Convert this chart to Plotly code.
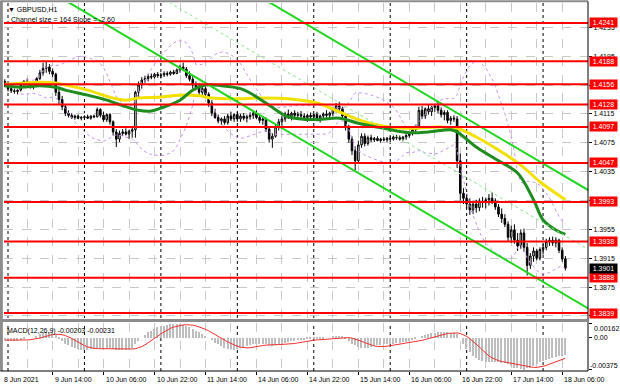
import plotly.graph_objects as go
import pandas as pd

FONT = "Liberation Sans"

# ---------------- data (prices in pips = price*10000) ----------------
# H1 bars, bar index 0 = 9 Jun 2021 00:00 (trading hours only)
first_bar = -1
open_pips = [14160,14155,14150,14147,14146,14148,14156,14160,14158,14152,14154,14164,14172,14178,14180,14174,14170,14145,14135,14125,14116,
             14113,14110,14112,14109,14110,14111,14109,14112,14111,14121,14113,14107,14114,14104,14090,14080,14088,14090,14087,14091,
             14093,14145,14155,14162,14164,14167,14166,14170,14168,14169,14171,14170,14173,14171,14176,14180,14177,14168,14163,14155,
             14152,14145,14150,14142,14130,14116,14110,14105,14108,14103,14112,14108,
             14114,14108,14112,14109,14111,14113,14116,14110,14106,14108,14094,14080,14084,14097,14104,14108,14115,14112,14116,14113,
             14114,14112,14110,14113,
             14111,14114,14109,14112,14115,14113,14116,14121,14126,14122,14112,14096,14080,14064,14050,14072,14084,14074,14082,14079,
             14081,14078,14080,14079,
             14081,14080,14083,14082,14080,14083,14085,14088,14093,14098,14120,14112,14122,14118,14124,14126,14120,14114,14117,14106,
             14109,14108,14050,14005,
             13998,13990,13982,13990,13985,13994,13992,13996,13998,13994,13986,13976,13970,13962,13944,13954,13940,13932,13950,13930,
             13905,13918,13925,13915,
             13927,13930,13938,13940,13936,13940,13926,13914]
high_pips = [14163,14158,14153,14150,14149,14158,14162,14164,14160,14156,14166,14176,14186,14187,14184,14178,14172,14150,14140,14128,14120,
             14116,14114,14114,14112,14113,14114,14113,14114,14124,14123,14118,14116,14116,14106,14094,14092,14094,14095,14093,14096,
             14147,14160,14166,14168,14170,14171,14172,14173,14172,14174,14174,14175,14176,14178,14183,14186,14180,14174,14168,14160,
             14158,14155,14153,14145,14134,14122,14114,14110,14112,14115,14118,14116,
             14118,14115,14116,14114,14117,14119,14120,14114,14112,14110,14098,14088,14100,14108,14112,14118,14121,14118,14120,14118,
             14119,14116,14115,14117,
             14116,14118,14114,14117,14120,14118,14124,14130,14132,14125,14114,14100,14084,14070,14078,14088,14088,14085,14086,14083,
             14084,14082,14083,14083,
             14084,14085,14086,14085,14084,14087,14090,14095,14100,14125,14126,14124,14127,14126,14129,14133,14124,14120,14120,14112,
             14113,14112,14060,14012,
             14004,13998,13994,13996,13998,14000,13999,14004,14006,13998,13990,13984,13976,13966,13960,13962,13950,13955,13956,13936,
             13922,13930,13928,13930,
             13935,13942,13944,13945,13944,13942,13930,13918]
low_pips = [14152,14146,14144,14143,14142,14146,14152,14155,14150,14149,14152,14162,14168,14172,14170,14166,14140,14128,14120,14112,14110,
            14108,14107,14108,14106,14107,14108,14107,14109,14110,14110,14104,14104,14100,14085,14069,14076,14084,14085,14080,14082,
            14082,14138,14150,14158,14160,14163,14164,14165,14164,14166,14167,14168,14169,14170,14172,14174,14165,14160,14150,14148,
            14140,14140,14138,14125,14112,14108,14102,14100,14100,14100,14105,14104,
            14104,14104,14106,14103,14107,14108,14108,14102,14100,14090,14075,14068,14082,14092,14098,14104,14108,14106,14110,14108,
            14109,14106,14104,14108,
            14106,14107,14103,14108,14110,14109,14112,14117,14118,14108,14092,14075,14058,14037,14046,14068,14070,14071,14076,14076,
            14077,14075,14077,14076,
            14077,14078,14079,14078,14077,14079,14082,14085,14090,14096,14108,14108,14114,14112,14118,14116,14110,14106,14102,14100,
            14104,14040,13995,13990,
            13984,13975,13976,13978,13980,13985,13984,13988,13990,13982,13972,13964,13958,13938,13936,13935,13925,13928,13924,13891,
            13900,13910,13912,13912,
            13920,13926,13932,13932,13930,13922,13910,13898]
close_pips = [14155,14150,14147,14146,14148,14156,14160,14158,14152,14154,14164,14172,14178,14180,14174,14170,14145,14135,14125,14116,14113,
              14110,14112,14109,14110,14111,14109,14112,14111,14121,14113,14107,14114,14104,14090,14080,14088,14090,14087,14091,14093,
              14145,14155,14162,14164,14167,14166,14170,14168,14169,14171,14170,14173,14171,14176,14180,14177,14168,14163,14155,14152,
              14145,14150,14142,14130,14116,14110,14105,14108,14103,14112,14108,14114,
              14108,14112,14109,14111,14113,14116,14110,14106,14108,14094,14080,14084,14097,14104,14108,14115,14112,14116,14113,14114,
              14112,14110,14113,14111,
              14114,14109,14112,14115,14113,14116,14121,14126,14122,14112,14096,14080,14064,14050,14072,14084,14074,14082,14079,14081,
              14078,14080,14079,14081,
              14080,14083,14082,14080,14083,14085,14088,14093,14098,14120,14112,14122,14118,14124,14126,14120,14114,14117,14106,14109,
              14108,14050,14005,13998,
              13990,13982,13990,13985,13994,13992,13996,13998,13994,13986,13976,13970,13962,13944,13954,13940,13932,13950,13930,13905,
              13918,13925,13915,13927,
              13930,13938,13940,13936,13940,13926,13914,13901]

# moving averages (bar index, pips)
ma_fast_bars = [-1, 4, 10, 15, 18, 25, 31, 37, 41, 45, 48, 54, 58, 62, 67, 73, 76, 82, 88, 97, 104, 110, 118, 126, 132, 139, 141, 147, 154, 160, 165, 168, 172, 175]
ma_fast_pips = [14154, 14152, 14154, 14152, 14148, 14141, 14134, 14125, 14120, 14119, 14123, 14134, 14148, 14155, 14154, 14150, 14144, 14127, 14111, 14107, 14109, 14102, 14095, 14089, 14090, 14093, 14090, 14069, 14050, 14033, 13996, 13968, 13954, 13948]
ma_slow_bars = [-1, 10, 15, 18, 25, 32, 37, 41, 47, 54, 60, 64, 71, 79, 88, 97, 105, 110, 118, 128, 135, 141, 147, 154, 161, 167, 175]
ma_slow_pips = [14156, 14159, 14158, 14155, 14148, 14138, 14134, 14137, 14138, 14141, 14140, 14137, 14136, 14137, 14136, 14130, 14116, 14107, 14098, 14095, 14097, 14095, 14083, 14065, 14044, 14021, 13996]

# MACD(12,26,9) main line per bar, in units of 0.0001
macd_main = [-3,-3,-4,-4,-4,-3,-1,0,0,0,2,4,6,7,7,6,3,-1,-4,-7,-9,
             -11,-12,-13,-14,-14,-14,-13,-13,-12,-12,-12,-12,-12,-13,-15,-15,-14,-14,-13,-12,
             -8,-4,0,3,6,8,10,12,13,14,15,16,16,16,16,15,14,12,10,8,
             6,4,2,0,-3,-6,-8,-10,-12,-13,-13,-14,
             -13,-12,-11,-10,-9,-8,-7,-7,-7,-8,-9,-10,-9,-8,-7,-6,-5,-4,-4,-3,
             -3,-3,-2,-2,
             -2,-2,-1,-1,0,0,1,2,2,1,-1,-4,-7,-9,-11,-12,-12,-12,-11,-10,
             -9,-9,-8,-8,
             -7,-7,-6,-6,-5,-5,-4,-3,-2,0,2,3,4,5,5,6,6,6,6,5,
             5,4,0,-7,
             -13,-17,-21,-24,-26,-27,-28,-29,-29,-29,-29,-30,-30,-31,-33,-35,-36,-37,-37.5,-36,
             -35,-33,-31,-29,
             -27,-26,-25,-24,-23,-22,-21,-20.5,-20.3]
macd_signal_period = 9
macd_header_values = [-0.00203, -0.00231]

levels = [1.4241, 1.4188, 1.4156, 1.4128, 1.4097, 1.4047, 1.3993, 1.3938, 1.3888, 1.3839]
current_price = 1.3901
price_ticks = [1.3835, 1.3875, 1.3915, 1.3955, 1.3995, 1.4035, 1.4075, 1.4115, 1.4155, 1.4195, 1.4235]
macd_ticks = [0.00162, 0.0, -0.00375]
macd_tick_text = ["0.00162", "0.00", "-0.00375"]
tick_bars = [-2, 14, 30, 46, 62, 78, 94, 110, 126, 142, 158, 174]
tick_labels = ["8 Jun 2021", "9 Jun 14:00", "10 Jun 06:00", "10 Jun 22:00", "11 Jun 14:00", "14 Jun 06:00",
               "14 Jun 22:00", "15 Jun 14:00", "16 Jun 06:00", "16 Jun 22:00", "17 Jun 14:00", "18 Jun 06:00"]
day_start_bars = [0, 24, 48, 72, 96, 120, 144, 168]
channel_size_pips = 164
channel_slope_pips = -2.60
channel_anchor_bar = 175
channel_anchor_upper_pips = 14028
bb_period, bb_dev = 20, 2

# ---------------- build ----------------
P = 10000.0
bars = list(range(first_bar, first_bar + len(close_pips)))
closes = pd.Series([c / P for c in close_pips])
bb_mid = closes.rolling(bb_period, min_periods=6).mean()
bb_sd = closes.rolling(bb_period, min_periods=6).std(ddof=0)
bb_up = bb_mid + bb_dev * bb_sd
bb_lo = bb_mid - bb_dev * bb_sd
macd = pd.Series([m / P for m in macd_main])
signal = macd.rolling(macd_signal_period, min_periods=1).mean()

x_min, x_max = -1.26, 182.1
y_min, y_max = 1.38321, 1.42687
m_min, m_max = -0.0039, 0.0017

fig = go.Figure()

for band in (bb_up, bb_lo):
    fig.add_trace(go.Scatter(x=bars, y=band, mode="lines", line=dict(color="#C495EA", width=1, dash="dot"),
                             xaxis="x", yaxis="y", hoverinfo="skip"))

fig.add_trace(go.Candlestick(
    x=bars, open=[v / P for v in open_pips], high=[v / P for v in high_pips],
    low=[v / P for v in low_pips], close=closes,
    increasing=dict(line=dict(color="black", width=1), fillcolor="white"),
    decreasing=dict(line=dict(color="black", width=1), fillcolor="black"),
    whiskerwidth=0, xaxis="x", yaxis="y"))

fig.add_trace(go.Scatter(x=ma_slow_bars, y=[v / P for v in ma_slow_pips], mode="lines",
                         line=dict(color="#F2E000", width=3, shape="spline"), xaxis="x", yaxis="y"))
fig.add_trace(go.Scatter(x=ma_fast_bars, y=[v / P for v in ma_fast_pips], mode="lines",
                         line=dict(color="#1E8C1E", width=3, shape="spline"), xaxis="x", yaxis="y"))

ch_x = [-3, 184]
upper = [(channel_anchor_upper_pips + channel_slope_pips * (b - channel_anchor_bar)) / P for b in ch_x]
lower = [u - channel_size_pips / P for u in upper]
middle = [u - channel_size_pips / 2 / P for u in upper]
fig.add_trace(go.Scatter(x=ch_x, y=upper, mode="lines", line=dict(color="#22D622", width=2), xaxis="x", yaxis="y"))
fig.add_trace(go.Scatter(x=ch_x, y=lower, mode="lines", line=dict(color="#22D622", width=2), xaxis="x", yaxis="y"))
fig.add_trace(go.Scatter(x=ch_x, y=middle, mode="lines", line=dict(color="#8BE68B", width=1, dash="dot"), xaxis="x", yaxis="y"))

fig.add_trace(go.Bar(x=bars, y=macd, marker=dict(color="#BDBDBD", line=dict(width=0)), width=0.45,
                     xaxis="x2", yaxis="y2"))
fig.add_trace(go.Scatter(x=bars, y=signal, mode="lines", line=dict(color="#F03030", width=1),
                         xaxis="x2", yaxis="y2"))

shapes = []
for lv in levels:
    shapes.append(dict(type="line", xref="x domain", yref="y", x0=0, x1=1, y0=lv, y1=lv,
                       line=dict(color="#FF0000", width=2), layer="above"))
for db in day_start_bars:
    for yr in ("y domain", "y2 domain"):
        shapes.append(dict(type="line", xref="x", yref=yr, x0=db, x1=db, y0=0, y1=1,
                           line=dict(color="#000000", width=1, dash="dot"), layer="below"))
main_bot = 53 / 368
macd_top = 48 / 368
shapes += [
    dict(type="line", xref="paper", yref="paper", x0=-0.0045, x1=-0.0045, y0=0, y1=1.006, line=dict(color="#8C8C8C", width=3)),
    dict(type="line", xref="paper", yref="paper", x0=-0.006, x1=1, y0=1.0045, y1=1.0045, line=dict(color="#8C8C8C", width=2)),
    dict(type="line", xref="paper", yref="paper", x0=1, x1=1, y0=0, y1=1.004, line=dict(color="#000000", width=1)),
    dict(type="line", xref="paper", yref="paper", x0=-0.006, x1=1, y0=(main_bot + macd_top) / 2, y1=(main_bot + macd_top) / 2,
         line=dict(color="#8C8C8C", width=3)),
    dict(type="line", xref="paper", yref="paper", x0=-0.006, x1=1, y0=0, y1=0, line=dict(color="#000000", width=1)),
]

ann = []
for lv in levels:
    ann.append(dict(xref="paper", yref="y", x=1, y=lv, xanchor="left", yanchor="middle", xshift=1,
                    text=f"{lv:.4f}", showarrow=False, bgcolor="#FF0000", width=26, height=8, borderpad=0.5,
                    font=dict(family=FONT, size=7, color="white")))
ann.append(dict(xref="paper", yref="y", x=1, y=current_price, xanchor="left", yanchor="middle", xshift=1,
                text=f"{current_price:.4f}", showarrow=False, bgcolor="#000000", width=26, height=8, borderpad=0.5,
                font=dict(family=FONT, size=7, color="white")))
# MACD pane scale labels (MT4 draws the extreme labels just inside the pane)
for val, txt, xs, ys in zip(macd_ticks, macd_tick_text, [4, 4, 0], [-5, 0, 4]):
    ann.append(dict(xref="paper", yref="y2", x=1, y=val, xanchor="left", yanchor="middle", xshift=xs, yshift=ys,
                    text=txt, showarrow=False, font=dict(family=FONT, size=7, color="black")))
for i, (tb, tl) in enumerate(zip(tick_bars, tick_labels)):
    if i == 0:
        ann.append(dict(xref="paper", yref="paper", x=0, y=0, xanchor="left", yanchor="top", xshift=-2, yshift=-3,
                        text=tl, showarrow=False, font=dict(family=FONT, size=7, color="black")))
    else:
        ann.append(dict(xref="x2", yref="paper", x=tb, y=0, xanchor="left", yanchor="top", xshift=0, yshift=-3,
                        text=tl, showarrow=False, font=dict(family=FONT, size=7, color="black")))
ann.append(dict(xref="paper", yref="paper", x=0, y=1, xanchor="left", yanchor="top", xshift=2, yshift=-1,
                text="\u25bc GBPUSD,H1", showarrow=False, font=dict(family=FONT, size=7, color="black")))
ann.append(dict(xref="paper", yref="paper", x=0, y=1, xanchor="left", yanchor="top", xshift=5, yshift=-11,
                text=f"Channel size = {channel_size_pips} Slope = {channel_slope_pips:.2f}", showarrow=False,
                font=dict(family=FONT, size=7, color="black")))
ann.append(dict(xref="paper", yref="paper", x=0, y=macd_top, xanchor="left", yanchor="top", xshift=1, yshift=-2,
                text=f"MACD(12,26,9) {macd_header_values[0]:.5f} {macd_header_values[1]:.5f}", showarrow=False,
                font=dict(family=FONT, size=7, color="black")))

grid = dict(gridcolor="#C8C8C8", griddash="dash", gridwidth=1)
fig.update_layout(
    width=620, height=388, margin=dict(l=4, r=32, t=3, b=17, autoexpand=False),
    paper_bgcolor="white", plot_bgcolor="white", showlegend=False,
    font=dict(family=FONT, size=7, color="black"),
    xaxis=dict(domain=[0, 1], anchor="y", range=[x_min, x_max], showticklabels=False, rangeslider=dict(visible=False),
               tickmode="array", tickvals=tick_bars, ticks="", showgrid=True, zeroline=False,
               minor=dict(tickmode="linear", tick0=-2, dtick=8, showgrid=True, **grid), **grid),
    yaxis=dict(domain=[main_bot, 1], anchor="x", side="right", range=[y_min, y_max], tickmode="array",
               tickvals=price_ticks, ticktext=[f"{t:.4f}" for t in price_ticks], ticks="outside", ticklen=3,
               tickcolor="black", showgrid=True, zeroline=False, automargin=False, **grid),
    xaxis2=dict(domain=[0, 1], anchor="y2", range=[x_min, x_max], matches="x", showticklabels=False,
                tickmode="array", tickvals=tick_bars, ticks="outside", ticklen=3, tickcolor="black",
                showgrid=True, zeroline=False,
                minor=dict(tickmode="linear", tick0=-2, dtick=8, showgrid=True, **grid), **grid),
    yaxis2=dict(domain=[0, macd_top], anchor="x2", side="right", range=[m_min, m_max], tickmode="array",
                tickvals=macd_ticks, showticklabels=False, ticks="outside", ticklen=3, tickcolor="black",
                showgrid=False, zeroline=False, automargin=False),
    shapes=shapes, annotations=ann, bargap=0,
)

fig.write_html("out.html", config={"displayModeBar": False},
               post_script="document.body.style.margin='0px';document.body.style.overflow='hidden';")
